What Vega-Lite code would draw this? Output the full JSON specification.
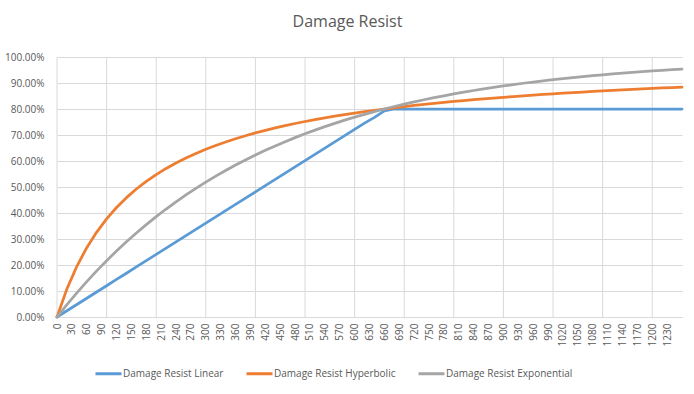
{
  "$schema": "https://vega.github.io/schema/vega-lite/v6.json",
  "width": 625,
  "height": 260,
  "autosize": {"type": "none"},
  "padding": {"left": 57, "top": 57, "right": 12, "bottom": 77},
  "background": "white",
  "title": {
    "text": "Damage Resist",
    "font": "Open Sans",
    "fontSize": 16,
    "fontWeight": "normal",
    "color": "#595959",
    "anchor": "middle",
    "dx": -22,
    "offset": 22
  },
  "config": {
    "view": {"stroke": null},
    "font": "Open Sans",
    "axis": {
      "labelFont": "Open Sans",
      "labelFontSize": 10,
      "labelColor": "#595959",
      "gridColor": "#D9D9D9",
      "gridWidth": 1,
      "ticks": false,
      "title": null
    },
    "axisX": {"grid": false},
    "legend": {
      "labelFont": "Open Sans",
      "labelFontSize": 10,
      "labelColor": "#595959"
    }
  },
  "datasets": {
    "grid": [
      {"g":0},{"g":100},{"g":200},{"g":300},{"g":400},{"g":500},{"g":600},
      {"g":700},{"g":800},{"g":900},{"g":1000},{"g":1100},{"g":1200}
    ],
    "series": [
      {"d":0,"s":"Damage Resist Linear","v":0},
      {"d":20,"s":"Damage Resist Linear","v":0.0241},
      {"d":40,"s":"Damage Resist Linear","v":0.0481},
      {"d":60,"s":"Damage Resist Linear","v":0.0722},
      {"d":80,"s":"Damage Resist Linear","v":0.0962},
      {"d":100,"s":"Damage Resist Linear","v":0.1203},
      {"d":120,"s":"Damage Resist Linear","v":0.1444},
      {"d":140,"s":"Damage Resist Linear","v":0.1684},
      {"d":160,"s":"Damage Resist Linear","v":0.1925},
      {"d":180,"s":"Damage Resist Linear","v":0.2165},
      {"d":200,"s":"Damage Resist Linear","v":0.2406},
      {"d":220,"s":"Damage Resist Linear","v":0.2647},
      {"d":240,"s":"Damage Resist Linear","v":0.2887},
      {"d":260,"s":"Damage Resist Linear","v":0.3128},
      {"d":280,"s":"Damage Resist Linear","v":0.3368},
      {"d":300,"s":"Damage Resist Linear","v":0.3609},
      {"d":320,"s":"Damage Resist Linear","v":0.3850},
      {"d":340,"s":"Damage Resist Linear","v":0.4090},
      {"d":360,"s":"Damage Resist Linear","v":0.4331},
      {"d":380,"s":"Damage Resist Linear","v":0.4571},
      {"d":400,"s":"Damage Resist Linear","v":0.4812},
      {"d":420,"s":"Damage Resist Linear","v":0.5053},
      {"d":440,"s":"Damage Resist Linear","v":0.5293},
      {"d":460,"s":"Damage Resist Linear","v":0.5534},
      {"d":480,"s":"Damage Resist Linear","v":0.5774},
      {"d":500,"s":"Damage Resist Linear","v":0.6015},
      {"d":520,"s":"Damage Resist Linear","v":0.6256},
      {"d":540,"s":"Damage Resist Linear","v":0.6496},
      {"d":560,"s":"Damage Resist Linear","v":0.6737},
      {"d":580,"s":"Damage Resist Linear","v":0.6977},
      {"d":600,"s":"Damage Resist Linear","v":0.7218},
      {"d":620,"s":"Damage Resist Linear","v":0.7459},
      {"d":640,"s":"Damage Resist Linear","v":0.7680},
      {"d":660,"s":"Damage Resist Linear","v":0.7930},
      {"d":680,"s":"Damage Resist Linear","v":0.8},
      {"d":700,"s":"Damage Resist Linear","v":0.8},
      {"d":720,"s":"Damage Resist Linear","v":0.8},
      {"d":740,"s":"Damage Resist Linear","v":0.8},
      {"d":760,"s":"Damage Resist Linear","v":0.8},
      {"d":780,"s":"Damage Resist Linear","v":0.8},
      {"d":800,"s":"Damage Resist Linear","v":0.8},
      {"d":820,"s":"Damage Resist Linear","v":0.8},
      {"d":840,"s":"Damage Resist Linear","v":0.8},
      {"d":860,"s":"Damage Resist Linear","v":0.8},
      {"d":880,"s":"Damage Resist Linear","v":0.8},
      {"d":900,"s":"Damage Resist Linear","v":0.8},
      {"d":920,"s":"Damage Resist Linear","v":0.8},
      {"d":940,"s":"Damage Resist Linear","v":0.8},
      {"d":960,"s":"Damage Resist Linear","v":0.8},
      {"d":980,"s":"Damage Resist Linear","v":0.8},
      {"d":1000,"s":"Damage Resist Linear","v":0.8},
      {"d":1020,"s":"Damage Resist Linear","v":0.8},
      {"d":1040,"s":"Damage Resist Linear","v":0.8},
      {"d":1060,"s":"Damage Resist Linear","v":0.8},
      {"d":1080,"s":"Damage Resist Linear","v":0.8},
      {"d":1100,"s":"Damage Resist Linear","v":0.8},
      {"d":1120,"s":"Damage Resist Linear","v":0.8},
      {"d":1140,"s":"Damage Resist Linear","v":0.8},
      {"d":1160,"s":"Damage Resist Linear","v":0.8},
      {"d":1180,"s":"Damage Resist Linear","v":0.8},
      {"d":1200,"s":"Damage Resist Linear","v":0.8},
      {"d":1220,"s":"Damage Resist Linear","v":0.8},
      {"d":1240,"s":"Damage Resist Linear","v":0.8},
      {"d":1260,"s":"Damage Resist Linear","v":0.8},
      {"d":0,"s":"Damage Resist Hyperbolic","v":0},
      {"d":20,"s":"Damage Resist Hyperbolic","v":0.1081},
      {"d":40,"s":"Damage Resist Hyperbolic","v":0.1951},
      {"d":60,"s":"Damage Resist Hyperbolic","v":0.2667},
      {"d":80,"s":"Damage Resist Hyperbolic","v":0.3265},
      {"d":100,"s":"Damage Resist Hyperbolic","v":0.3774},
      {"d":120,"s":"Damage Resist Hyperbolic","v":0.4211},
      {"d":140,"s":"Damage Resist Hyperbolic","v":0.4590},
      {"d":160,"s":"Damage Resist Hyperbolic","v":0.4923},
      {"d":180,"s":"Damage Resist Hyperbolic","v":0.5217},
      {"d":200,"s":"Damage Resist Hyperbolic","v":0.5479},
      {"d":220,"s":"Damage Resist Hyperbolic","v":0.5714},
      {"d":240,"s":"Damage Resist Hyperbolic","v":0.5926},
      {"d":260,"s":"Damage Resist Hyperbolic","v":0.6118},
      {"d":280,"s":"Damage Resist Hyperbolic","v":0.6292},
      {"d":300,"s":"Damage Resist Hyperbolic","v":0.6452},
      {"d":320,"s":"Damage Resist Hyperbolic","v":0.6598},
      {"d":340,"s":"Damage Resist Hyperbolic","v":0.6733},
      {"d":360,"s":"Damage Resist Hyperbolic","v":0.6857},
      {"d":380,"s":"Damage Resist Hyperbolic","v":0.6972},
      {"d":400,"s":"Damage Resist Hyperbolic","v":0.7080},
      {"d":420,"s":"Damage Resist Hyperbolic","v":0.7179},
      {"d":440,"s":"Damage Resist Hyperbolic","v":0.7273},
      {"d":460,"s":"Damage Resist Hyperbolic","v":0.7360},
      {"d":480,"s":"Damage Resist Hyperbolic","v":0.7442},
      {"d":500,"s":"Damage Resist Hyperbolic","v":0.7519},
      {"d":520,"s":"Damage Resist Hyperbolic","v":0.7591},
      {"d":540,"s":"Damage Resist Hyperbolic","v":0.7660},
      {"d":560,"s":"Damage Resist Hyperbolic","v":0.7724},
      {"d":580,"s":"Damage Resist Hyperbolic","v":0.7785},
      {"d":600,"s":"Damage Resist Hyperbolic","v":0.7843},
      {"d":620,"s":"Damage Resist Hyperbolic","v":0.7898},
      {"d":640,"s":"Damage Resist Hyperbolic","v":0.7950},
      {"d":660,"s":"Damage Resist Hyperbolic","v":0.8000},
      {"d":680,"s":"Damage Resist Hyperbolic","v":0.8047},
      {"d":700,"s":"Damage Resist Hyperbolic","v":0.8092},
      {"d":720,"s":"Damage Resist Hyperbolic","v":0.8136},
      {"d":740,"s":"Damage Resist Hyperbolic","v":0.8177},
      {"d":760,"s":"Damage Resist Hyperbolic","v":0.8216},
      {"d":780,"s":"Damage Resist Hyperbolic","v":0.8254},
      {"d":800,"s":"Damage Resist Hyperbolic","v":0.8290},
      {"d":820,"s":"Damage Resist Hyperbolic","v":0.8325},
      {"d":840,"s":"Damage Resist Hyperbolic","v":0.8358},
      {"d":860,"s":"Damage Resist Hyperbolic","v":0.8390},
      {"d":880,"s":"Damage Resist Hyperbolic","v":0.8421},
      {"d":900,"s":"Damage Resist Hyperbolic","v":0.8451},
      {"d":920,"s":"Damage Resist Hyperbolic","v":0.8479},
      {"d":940,"s":"Damage Resist Hyperbolic","v":0.8507},
      {"d":960,"s":"Damage Resist Hyperbolic","v":0.8533},
      {"d":980,"s":"Damage Resist Hyperbolic","v":0.8559},
      {"d":1000,"s":"Damage Resist Hyperbolic","v":0.8584},
      {"d":1020,"s":"Damage Resist Hyperbolic","v":0.8608},
      {"d":1040,"s":"Damage Resist Hyperbolic","v":0.8631},
      {"d":1060,"s":"Damage Resist Hyperbolic","v":0.8653},
      {"d":1080,"s":"Damage Resist Hyperbolic","v":0.8675},
      {"d":1100,"s":"Damage Resist Hyperbolic","v":0.8696},
      {"d":1120,"s":"Damage Resist Hyperbolic","v":0.8716},
      {"d":1140,"s":"Damage Resist Hyperbolic","v":0.8736},
      {"d":1160,"s":"Damage Resist Hyperbolic","v":0.8755},
      {"d":1180,"s":"Damage Resist Hyperbolic","v":0.8773},
      {"d":1200,"s":"Damage Resist Hyperbolic","v":0.8791},
      {"d":1220,"s":"Damage Resist Hyperbolic","v":0.8809},
      {"d":1240,"s":"Damage Resist Hyperbolic","v":0.8826},
      {"d":1260,"s":"Damage Resist Hyperbolic","v":0.8842},
      {"d":0,"s":"Damage Resist Exponential","v":0},
      {"d":20,"s":"Damage Resist Exponential","v":0.0476},
      {"d":40,"s":"Damage Resist Exponential","v":0.0929},
      {"d":60,"s":"Damage Resist Exponential","v":0.1361},
      {"d":80,"s":"Damage Resist Exponential","v":0.1773},
      {"d":100,"s":"Damage Resist Exponential","v":0.2164},
      {"d":120,"s":"Damage Resist Exponential","v":0.2538},
      {"d":140,"s":"Damage Resist Exponential","v":0.2893},
      {"d":160,"s":"Damage Resist Exponential","v":0.3231},
      {"d":180,"s":"Damage Resist Exponential","v":0.3553},
      {"d":200,"s":"Damage Resist Exponential","v":0.3860},
      {"d":220,"s":"Damage Resist Exponential","v":0.4153},
      {"d":240,"s":"Damage Resist Exponential","v":0.4431},
      {"d":260,"s":"Damage Resist Exponential","v":0.4696},
      {"d":280,"s":"Damage Resist Exponential","v":0.4949},
      {"d":300,"s":"Damage Resist Exponential","v":0.5189},
      {"d":320,"s":"Damage Resist Exponential","v":0.5418},
      {"d":340,"s":"Damage Resist Exponential","v":0.5636},
      {"d":360,"s":"Damage Resist Exponential","v":0.5844},
      {"d":380,"s":"Damage Resist Exponential","v":0.6042},
      {"d":400,"s":"Damage Resist Exponential","v":0.6230},
      {"d":420,"s":"Damage Resist Exponential","v":0.6410},
      {"d":440,"s":"Damage Resist Exponential","v":0.6581},
      {"d":460,"s":"Damage Resist Exponential","v":0.6744},
      {"d":480,"s":"Damage Resist Exponential","v":0.6899},
      {"d":500,"s":"Damage Resist Exponential","v":0.7046},
      {"d":520,"s":"Damage Resist Exponential","v":0.7187},
      {"d":540,"s":"Damage Resist Exponential","v":0.7321},
      {"d":560,"s":"Damage Resist Exponential","v":0.7449},
      {"d":580,"s":"Damage Resist Exponential","v":0.7570},
      {"d":600,"s":"Damage Resist Exponential","v":0.7686},
      {"d":620,"s":"Damage Resist Exponential","v":0.7796},
      {"d":640,"s":"Damage Resist Exponential","v":0.7901},
      {"d":660,"s":"Damage Resist Exponential","v":0.8001},
      {"d":680,"s":"Damage Resist Exponential","v":0.8096},
      {"d":700,"s":"Damage Resist Exponential","v":0.8187},
      {"d":720,"s":"Damage Resist Exponential","v":0.8273},
      {"d":740,"s":"Damage Resist Exponential","v":0.8355},
      {"d":760,"s":"Damage Resist Exponential","v":0.8434},
      {"d":780,"s":"Damage Resist Exponential","v":0.8508},
      {"d":800,"s":"Damage Resist Exponential","v":0.8579},
      {"d":820,"s":"Damage Resist Exponential","v":0.8647},
      {"d":840,"s":"Damage Resist Exponential","v":0.8711},
      {"d":860,"s":"Damage Resist Exponential","v":0.8773},
      {"d":880,"s":"Damage Resist Exponential","v":0.8831},
      {"d":900,"s":"Damage Resist Exponential","v":0.8886},
      {"d":920,"s":"Damage Resist Exponential","v":0.8940},
      {"d":940,"s":"Damage Resist Exponential","v":0.8990},
      {"d":960,"s":"Damage Resist Exponential","v":0.9038},
      {"d":980,"s":"Damage Resist Exponential","v":0.9084},
      {"d":1000,"s":"Damage Resist Exponential","v":0.9128},
      {"d":1020,"s":"Damage Resist Exponential","v":0.9169},
      {"d":1040,"s":"Damage Resist Exponential","v":0.9209},
      {"d":1060,"s":"Damage Resist Exponential","v":0.9246},
      {"d":1080,"s":"Damage Resist Exponential","v":0.9282},
      {"d":1100,"s":"Damage Resist Exponential","v":0.9316},
      {"d":1120,"s":"Damage Resist Exponential","v":0.9349},
      {"d":1140,"s":"Damage Resist Exponential","v":0.9380},
      {"d":1160,"s":"Damage Resist Exponential","v":0.9410},
      {"d":1180,"s":"Damage Resist Exponential","v":0.9438},
      {"d":1200,"s":"Damage Resist Exponential","v":0.9464},
      {"d":1220,"s":"Damage Resist Exponential","v":0.9490},
      {"d":1240,"s":"Damage Resist Exponential","v":0.9514},
      {"d":1260,"s":"Damage Resist Exponential","v":0.9537}
    ]
  },
  "layer": [
    {
      "data": {"name": "grid"},
      "mark": {"type": "rule", "color": "#D9D9D9", "strokeWidth": 1},
      "encoding": {
        "x": {
          "field": "g",
          "type": "quantitative",
          "scale": {"domain": [0, 1260], "nice": false, "zero": true},
          "axis": {
            "values": [0,30,60,90,120,150,180,210,240,270,300,330,360,390,420,450,480,510,540,570,600,630,660,690,720,750,780,810,840,870,900,930,960,990,1020,1050,1080,1110,1140,1170,1200,1230],
            "format": "d",
            "grid": false,
            "labelAngle": -90,
            "labelOverlap": false,
            "labelPadding": 6,
            "domain": true,
            "domainColor": "#D9D9D9",
            "domainWidth": 1
          }
        }
      }
    },
    {
      "data": {"name": "series"},
      "mark": {"type": "line", "strokeWidth": 2.75, "strokeCap": "round", "strokeJoin": "round"},
      "encoding": {
        "x": {
          "field": "d",
          "type": "quantitative",
          "scale": {"domain": [0, 1260], "nice": false, "zero": true},
          "axis": {
            "values": [0,30,60,90,120,150,180,210,240,270,300,330,360,390,420,450,480,510,540,570,600,630,660,690,720,750,780,810,840,870,900,930,960,990,1020,1050,1080,1110,1140,1170,1200,1230],
            "format": "d",
            "grid": false,
            "labelAngle": -90,
            "labelOverlap": false,
            "labelPadding": 6,
            "domain": true,
            "domainColor": "#D9D9D9",
            "domainWidth": 1
          }
        },
        "y": {
          "field": "v",
          "type": "quantitative",
          "scale": {"domain": [0, 1], "nice": false},
          "axis": {
            "values": [0,0.1,0.2,0.3,0.4,0.5,0.6,0.7,0.8,0.9,1],
            "format": ".2%",
            "domain": false,
            "grid": true,
            "labelPadding": 13
          }
        },
        "color": {
          "field": "s",
          "type": "nominal",
          "scale": {
            "domain": ["Damage Resist Linear", "Damage Resist Hyperbolic", "Damage Resist Exponential"],
            "range": ["#5B9BD5", "#ED7D31", "#A5A5A5"]
          },
          "legend": {
            "title": null,
            "orient": "none",
            "direction": "horizontal",
            "legendX": 37,
            "legendY": 302,
            "symbolType": "stroke",
            "symbolSize": 676,
            "symbolStrokeWidth": 3,
            "labelOffset": 0,
            "columnPadding": 16
          }
        }
      }
    }
  ]
}
